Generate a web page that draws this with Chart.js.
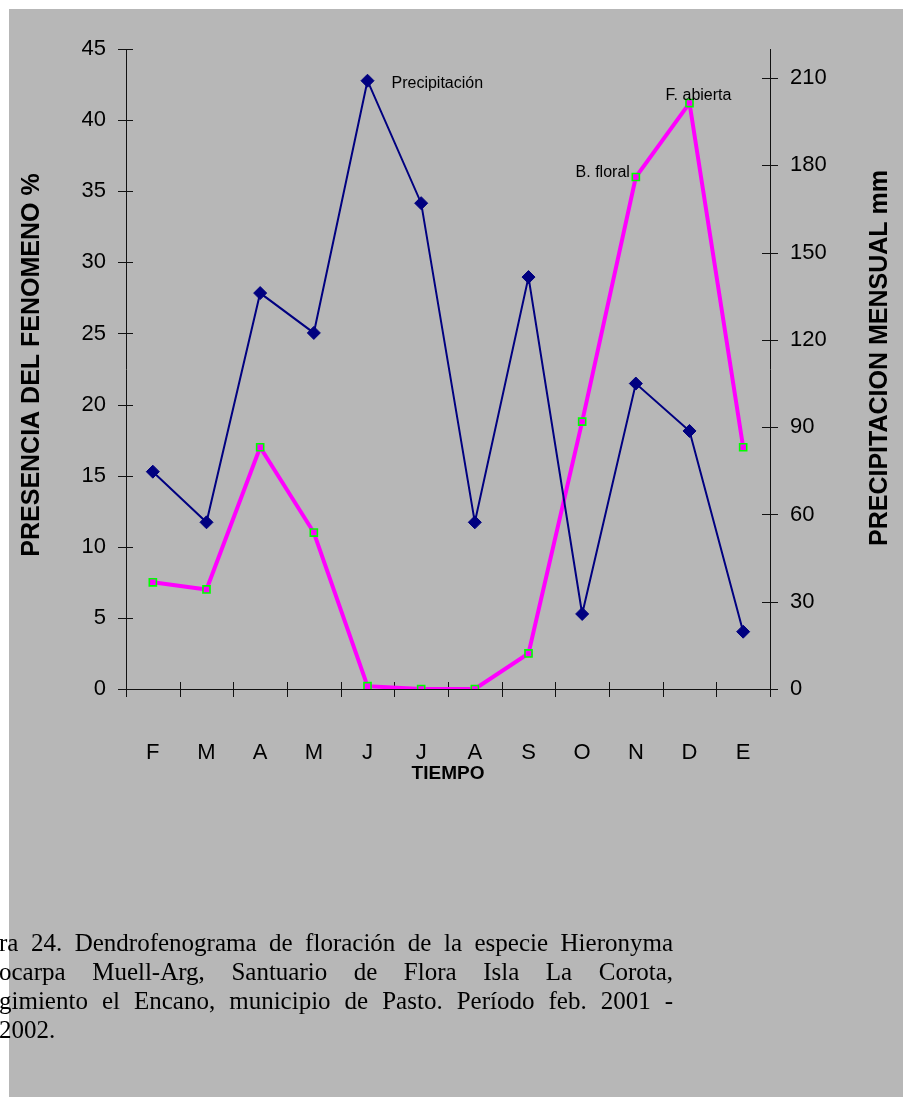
<!DOCTYPE html>
<html>
<head>
<meta charset="utf-8">
<script src="https://cdn.jsdelivr.net/npm/chart.js@4/dist/chart.umd.min.js"></script>
<style>
  html, body { margin: 0; padding: 0; background: #ffffff; }
  canvas { display: block; }
</style>
</head>
<body>
<canvas id="chart" width="903" height="1097"></canvas>
<script>
// Months from February 2001 to January 2002
const months = ['F', 'M', 'A', 'M', 'J', 'J', 'A', 'S', 'O', 'N', 'D', 'E'];
// Flowering presence (%) – left axis
const floweringPct = [7.5, 7.0, 17.0, 11.0, 0.2, 0, 0, 2.5, 18.8, 36.0, 41.2, 17.0];
// Monthly rainfall (mm) – right axis
const rainfallMm = [74.7, 57.3, 136.1, 122.4, 209.1, 167.0, 57.3, 141.6, 25.8, 105.0, 88.7, 19.7];
// Axis ranges / steps
const pctTicks = { min: 0, max: 45, step: 5 };
const mmTicks = { min: 0, max: 220, step: 30 };
// Caption under the chart (the page cuts off the start of each line)
const captionLines = [
  'Figura 24.  Dendrofenograma de floración de la especie Hieronyma',
  'macrocarpa Muell-Arg, Santuario de Flora Isla La Corota,',
  'corregimiento el Encano, municipio de Pasto. Período feb. 2001 -',
  'ene. 2002.'
];
const captionHidden = ['Figu', 'macr', 'corre', 'ene. '];

const SANS = "'Liberation Sans', Arial, sans-serif";
const SERIF = "'Liberation Serif', 'Times New Roman', serif";

// Page background: gray panel with a thin white margin top/left
const backdrop = {
  id: 'backdrop',
  beforeDraw(chart) {
    const { ctx, width, height } = chart;
    ctx.save();
    ctx.fillStyle = '#ffffff';
    ctx.fillRect(0, 0, width, height);
    ctx.fillStyle = '#b7b7b7';
    ctx.fillRect(9, 9, width - 9, height - 9);
    ctx.restore();
  }
};

// Tick marks crossing the axes
const crossTicks = {
  id: 'crossTicks',
  beforeDatasetsDraw(chart) {
    const { ctx, scales: { x, y, y1 } } = chart;
    ctx.save();
    ctx.strokeStyle = '#111';
    ctx.lineWidth = 1;
    ctx.beginPath();
    y.ticks.forEach((t, i) => {
      const py = Math.round(y.getPixelForTick(i)) + 0.5;
      ctx.moveTo(y.right - 8, py); ctx.lineTo(y.right + 7, py);
    });
    y1.ticks.forEach((t, i) => {
      const py = Math.round(y1.getPixelForTick(i)) + 0.5;
      ctx.moveTo(y1.left - 8, py); ctx.lineTo(y1.left + 8, py);
    });
    for (let i = 0; i <= months.length; i++) {
      const px = Math.round(x.getPixelForValue(i - 0.5)) + 0.5;
      ctx.moveTo(px, x.top - 7); ctx.lineTo(px, x.top + 8);
    }
    ctx.stroke();
    ctx.restore();
  }
};

// Axis titles, series labels and caption
const texts = {
  id: 'texts',
  afterDraw(chart) {
    const { ctx, chartArea: ca } = chart;
    const midY = (ca.top + ca.bottom) / 2;
    ctx.save();
    ctx.fillStyle = '#000';

    // Axis titles
    ctx.font = 'bold 25px ' + SANS;
    ctx.textAlign = 'center';
    ctx.textBaseline = 'middle';
    ctx.save(); ctx.translate(32, midY - 4); ctx.rotate(-Math.PI / 2);
    ctx.fillText('PRESENCIA DEL FENOMENO %', 0, 0); ctx.restore();
    ctx.save(); ctx.translate(880, midY - 11); ctx.rotate(-Math.PI / 2);
    ctx.fillText('PRECIPITACION MENSUAL mm', 0, 0); ctx.restore();
    ctx.font = 'bold 19px ' + SANS;
    ctx.fillText('TIEMPO', (ca.left + ca.right) / 2, 774);

    // Series labels next to their points
    ctx.font = '16px ' + SANS;
    const rain = chart.getDatasetMeta(0).data;
    const flow = chart.getDatasetMeta(1).data;
    ctx.textAlign = 'left';
    ctx.fillText('Precipitación', rain[4].x + 24, rain[4].y + 3);
    ctx.textAlign = 'center';
    ctx.fillText('F. abierta', flow[10].x + 9, flow[10].y - 7);
    ctx.textAlign = 'right';
    ctx.fillText('B. floral', flow[9].x - 6, flow[9].y - 4);

    // Caption, justified to a right margin
    ctx.font = '25px ' + SERIF;
    ctx.textAlign = 'left';
    const x1 = 673;
    captionLines.forEach((line, li) => {
      const x0 = -1 - ctx.measureText(captionHidden[li]).width;
      const yy = 944 + li * 29;
      const words = line.split(/\s+/);
      if (li === captionLines.length - 1) { ctx.fillText(line, x0, yy); return; }
      const total = words.reduce((s, w) => s + ctx.measureText(w).width, 0);
      const gap = (x1 - x0 - total) / (words.length - 1);
      let cx = x0;
      words.forEach(w => { ctx.fillText(w, cx, yy); cx += ctx.measureText(w).width + gap; });
    });
    ctx.restore();
  }
};

const tickFont = { family: SANS, size: 22 };

new Chart(document.getElementById('chart'), {
  type: 'line',
  data: {
    labels: months,
    datasets: [
      {
        label: 'Precipitación',
        data: rainfallMm,
        yAxisID: 'y1',
        borderColor: '#000080',
        borderWidth: 2,
        pointStyle: 'rectRot',
        pointRadius: 6.5,
        pointBackgroundColor: '#000080',
        pointBorderColor: '#000080',
        pointBorderWidth: 1,
        tension: 0
      },
      {
        label: 'Floración',
        data: floweringPct,
        yAxisID: 'y',
        borderColor: '#ff00ff',
        borderWidth: 4,
        pointStyle: 'rect',
        pointRadius: 5,
        pointBackgroundColor: '#ff00ff',
        pointBorderColor: '#00ff00',
        pointBorderWidth: 1.6,
        tension: 0
      }
    ]
  },
  options: {
    responsive: false,
    animation: false,
    events: [],
    layout: { padding: { top: 49, right: 0, bottom: 278, left: 0 } },
    plugins: { legend: { display: false }, tooltip: { enabled: false } },
    scales: {
      x: {
        type: 'category',
        offset: true,
        grid: { display: false, drawTicks: false, tickLength: 0, offset: true },
        border: { display: true, color: '#111', width: 1 },
        ticks: { color: '#000', font: tickFont, padding: 51, maxRotation: 0, autoSkip: false },
        afterFit(s) { s.height = 130; }
      },
      y: {
        position: 'left',
        min: pctTicks.min,
        max: pctTicks.max,
        grid: { display: false, drawTicks: false, tickLength: 0 },
        border: { display: true, color: '#111', width: 1 },
        ticks: { stepSize: pctTicks.step, color: '#000', font: tickFont, padding: 20 },
        afterFit(s) { s.width = 126; }
      },
      y1: {
        position: 'right',
        min: mmTicks.min,
        max: mmTicks.max,
        grid: { display: false, drawTicks: false, tickLength: 0 },
        border: { display: true, color: '#111', width: 1 },
        ticks: { stepSize: mmTicks.step, includeBounds: false, color: '#000', font: tickFont, padding: 20 },
        afterFit(s) { s.width = 133; }
      }
    }
  },
  plugins: [backdrop, crossTicks, texts]
});
</script>
</body>
</html>
